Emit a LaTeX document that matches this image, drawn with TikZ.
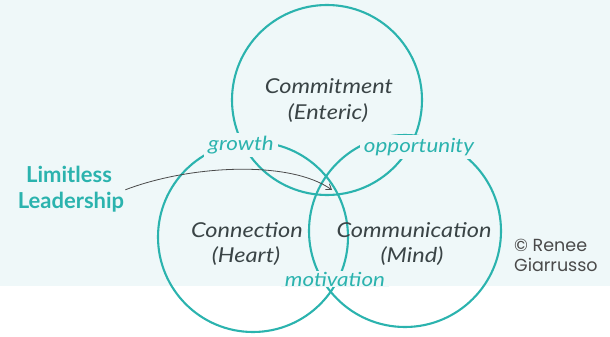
\documentclass[tikz,border=0pt]{standalone}
\usepackage{fontspec}
\setmainfont{Lato}
\newfontfamily\hand{Lato}[FakeStretch=1.15]
\newfontfamily\credit{Poppins}
\usetikzlibrary{arrows.meta}
\definecolor{bgc}{HTML}{EFF8F9}
\definecolor{teal1}{HTML}{2BB3AE}
\definecolor{ink}{HTML}{3A4446}
\definecolor{greyc}{HTML}{4A4A4A}
\tikzset{
  ring/.style={draw=teal1, line width=2.1pt},
  word/.style={font=\hand\itshape\fontsize{20.5}{20.5}\selectfont, text=ink, inner sep=1pt},
  link/.style={font=\hand\itshape\fontsize{19.5}{19.5}\selectfont, text=teal1, fill=bgc, inner xsep=4pt, inner ysep=3pt},
  lead/.style={font=\bfseries\fontsize{22}{22}\selectfont, text=teal1, inner sep=0pt},
  credittext/.style={font=\credit\fontsize{17.5}{20}\selectfont, text=greyc, inner sep=0pt, align=left},
  pointer/.style={draw=greyc, line width=0.8pt, -{Straight Barb[length=5pt,width=7pt]}}
}
\begin{document}
\begin{tikzpicture}[x=1pt,y=-1pt]
\useasboundingbox (0,0) rectangle (610,337);
\fill[bgc] (0,0) rectangle (610,286);
% circles
\node[ring, circle, minimum size=190pt, inner sep=0pt] (ctop) at (327,100) {};
\node[ring, circle, minimum size=190pt, inner sep=0pt] (cleft) at (253,237) {};
\node[ring, circle, minimum size=192pt, inner sep=0pt] (cright) at (405,231) {};
% labels in the circles
\node[word] (commit) at (329,86) {Commitment};
\node[word] (enteric) at (328,113) {(Enteric)};
\node[word] (conn) at (247,230) {Connection};
\node[word] (heart) at (246,256) {(Heart)};
\node[word] (comm) at (414,230) {Communication};
\node[word] (mind) at (412,256) {(Mind)};
% overlap labels
\node[link] (growth) at (241,145) {growth};
\node[link] (opp) at (419,147) {opportunity};
\node[link, inner ysep=1pt] (motiv) at (335,279) {motivation};
% leadership
\node[lead] (lim) at (69,174) {Limitless};
\node[lead] (leader) at (71,202) {Leadership};
\coordinate (tip) at (332,190);
\draw[pointer] (leader.north east) ++(1,-2) coordinate (start) .. controls (190,165) and (290,160) .. (tip);
% credit
\node[credittext, anchor=west] (credit) at (514,255) {\textcopyright\ Renee\\Giarrusso};
\end{tikzpicture}
\end{document}
